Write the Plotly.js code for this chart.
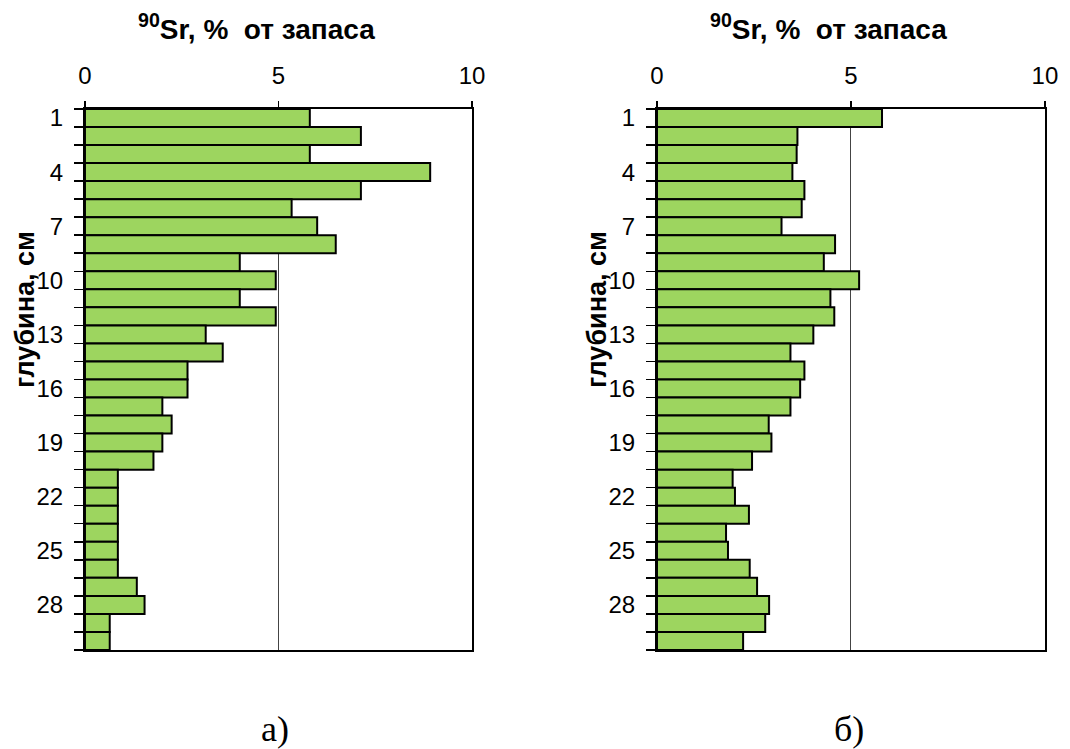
<!DOCTYPE html>
<html>
<head>
<meta charset="utf-8">
<script src="https://cdn.plot.ly/plotly-3.0.1.min.js"></script>
<style>html,body{margin:0;padding:0;background:#fff;}#chart{width:1070px;height:749px;}</style>
</head>
<body>
<div id="chart"></div>
<script>
// Depth levels, cm
const depths = [1,2,3,4,5,6,7,8,9,10,11,12,13,14,15,16,17,18,19,20,21,22,23,24,25,26,27,28,29,30];
// Panel a) 90Sr, % of inventory
const valuesA = [5.81,7.13,5.81,8.92,7.13,5.34,6.0,6.48,4.0,4.93,4.0,4.93,3.12,3.56,2.65,2.65,2.0,2.24,2.0,1.77,0.85,0.85,0.85,0.85,0.85,0.85,1.34,1.54,0.64,0.64];
// Panel б) 90Sr, % of inventory
const valuesB = [5.80,3.62,3.60,3.49,3.80,3.73,3.21,4.59,4.30,5.21,4.47,4.57,4.03,3.44,3.80,3.69,3.44,2.88,2.95,2.45,1.95,2.01,2.37,1.78,1.83,2.39,2.58,2.89,2.79,2.22];
const yTickVals = [1,4,7,10,13,16,19,22,25,28];
const xTickVals = [0,5,10];
const titleText = '<sup>90</sup>Sr, %\u00a0 от запаса';
const yTitleText = 'глубина, см';
const panelLabels = ['а)', 'б)'];

const boundaries = [0.5].concat(depths.map(d => d + 0.5));
const sans = 'Liberation Sans, Arial, sans-serif';
const serif = 'Liberation Serif, Times New Roman, serif';
const barColor = '#9DD55F';

function barTrace(vals, xa, ya) {
  return {
    type: 'bar', orientation: 'h', x: vals, y: depths, width: 1,
    xaxis: xa, yaxis: ya,
    marker: {color: barColor, line: {color: '#000', width: 2}},
    hoverinfo: 'x+y'
  };
}

function xAxis(domain, anchor) {
  return {
    domain: domain, anchor: anchor, side: 'top', range: [0, 10],
    tickmode: 'array', tickvals: xTickVals,
    ticks: 'outside', ticklen: 6, tickwidth: 1.5, tickcolor: '#000',
    showline: true, linecolor: '#000', linewidth: 2, mirror: true,
    showgrid: true, gridcolor: '#444', gridwidth: 1, zeroline: false,
    tickfont: {family: sans, size: 24, color: '#000'},
    ticklabelstandoff: 7
  };
}
function yAxis(domain, anchor) {
  return {
    domain: domain, anchor: anchor, range: [30.5, 0.5],
    tickmode: 'array', tickvals: yTickVals,
    ticks: 'outside', ticklen: 9, tickcolor: 'rgba(0,0,0,0)',
    minor: {tickmode: 'array', tickvals: boundaries, ticks: 'outside', ticklen: 9, tickwidth: 1.5, tickcolor: '#000', showgrid: false},
    showline: true, linecolor: '#000', linewidth: 2, mirror: true,
    showgrid: false, zeroline: false,
    tickfont: {family: sans, size: 24, color: '#000'},
    ticklabelstandoff: 6
  };
}

const yDom = [0.1322, 0.8545];
const layout = {
  width: 1070, height: 749,
  margin: {l: 0, r: 0, t: 0, b: 0},
  paper_bgcolor: '#fff', plot_bgcolor: '#fff',
  showlegend: false, bargap: 0,
  xaxis: xAxis([0.0794, 0.4411], 'y'),
  yaxis: yAxis(yDom, 'x'),
  xaxis2: xAxis([0.6140, 0.9766], 'y2'),
  yaxis2: yAxis(yDom, 'x2'),
  annotations: [
    {xref: 'paper', yref: 'paper', x: 256/1070, y: 1 - 27/749, text: titleText, showarrow: false,
     font: {family: sans, size: 28, color: '#000', weight: 'bold'}, xanchor: 'center', yanchor: 'middle'},
    {xref: 'paper', yref: 'paper', x: 828/1070, y: 1 - 27/749, text: titleText, showarrow: false,
     font: {family: sans, size: 28, color: '#000', weight: 'bold'}, xanchor: 'center', yanchor: 'middle'},
    {xref: 'paper', yref: 'paper', x: 25/1070, y: 1 - 310/749, text: yTitleText, showarrow: false, textangle: -90,
     font: {family: sans, size: 27, color: '#000', weight: 'bold'}, xanchor: 'center', yanchor: 'middle'},
    {xref: 'paper', yref: 'paper', x: 597/1070, y: 1 - 310/749, text: yTitleText, showarrow: false, textangle: -90,
     font: {family: sans, size: 27, color: '#000', weight: 'bold'}, xanchor: 'center', yanchor: 'middle'},
    {xref: 'paper', yref: 'paper', x: 275/1070, y: 1 - 729/749, text: panelLabels[0], showarrow: false,
     font: {family: serif, size: 36, color: '#000'}, xanchor: 'center', yanchor: 'middle'},
    {xref: 'paper', yref: 'paper', x: 849/1070, y: 1 - 729/749, text: panelLabels[1], showarrow: false,
     font: {family: serif, size: 36, color: '#000'}, xanchor: 'center', yanchor: 'middle'}
  ]
};

Plotly.newPlot('chart', [barTrace(valuesA, 'x', 'y'), barTrace(valuesB, 'x2', 'y2')], layout, {staticPlot: true});
</script>
</body>
</html>
